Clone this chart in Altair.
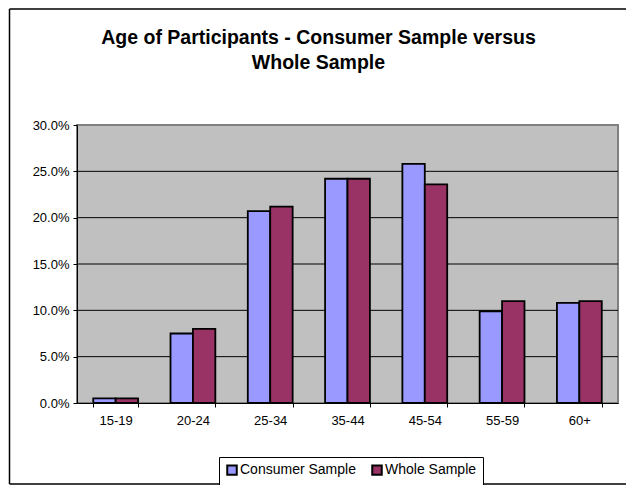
import altair as alt
import pandas as pd

ages = ["15-19", "20-24", "25-34", "35-44", "45-54", "55-59", "60+"]
consumer = [0.5, 7.5, 20.7, 24.2, 25.8, 9.9, 10.8]
whole = [0.5, 8.0, 21.2, 24.2, 23.6, 11.0, 11.0]
series = ["Consumer Sample", "Whole Sample"]
colors = ["#9999FF", "#993366"]
grid_vals = [0.05, 0.10, 0.15, 0.20, 0.25]
tick_vals = [0.0, 0.05, 0.10, 0.15, 0.20, 0.25, 0.30]

rows = []
for a, c, w in zip(ages, consumer, whole):
    rows.append({"Age": a, "Series": series[0], "Share": c / 100})
    rows.append({"Age": a, "Series": series[1], "Share": w / 100})
df = pd.DataFrame(rows)
grid_df = pd.DataFrame({"v": grid_vals})

FONT = "Arial, Liberation Sans, sans-serif"

yscale = alt.Scale(domain=[0, 0.3], nice=False)

grid = alt.Chart(grid_df).mark_rule(color="black", strokeWidth=1).encode(
    y=alt.Y("v:Q", scale=yscale, title=None,
            axis=alt.Axis(format=".1%", values=tick_vals, grid=False))
)

bars = alt.Chart(df).mark_bar(stroke="black", strokeWidth=1.8, opacity=1).encode(
    x=alt.X("Age:N", sort=ages, title=None,
            scale=alt.Scale(paddingInner=0.42, paddingOuter=0.21),
            axis=alt.Axis(labelAngle=0, tickBand="extent", labelPadding=7,
                          tickSize=4, domainColor="black", tickColor="black",
                          labelFontSize=13, labelColor="black", labelFont=FONT)),
    xOffset=alt.XOffset("Series:N", sort=series,
                        scale=alt.Scale(paddingInner=0, paddingOuter=0)),
    y=alt.Y("Share:Q", scale=yscale, title=None,
            axis=alt.Axis(format=".1%", values=tick_vals, grid=False,
                          tickSize=4, domainColor="black", tickColor="black",
                          labelFontSize=13, labelColor="black", labelFont=FONT,
                          labelPadding=4)),
    color=alt.Color("Series:N", sort=series,
                    scale=alt.Scale(domain=series, range=colors),
                    legend=alt.Legend(orient="none", legendX=142, legendY=332,
                                      direction="horizontal", title=None,
                                      strokeColor="black", fillColor="white",
                                      padding=6, symbolType="square",
                                      symbolSize=90, symbolStrokeColor="black",
                                      symbolStrokeWidth=2, symbolOpacity=1,
                                      labelFontSize=14, labelFont=FONT,
                                      labelColor="black", columnPadding=12,
                                      labelOffset=1, cornerRadius=0)),
)

frame_data = alt.Data(values=[{"k": 1}])
left_line = alt.Chart(frame_data).mark_rule(color="black", strokeWidth=1.5).encode(
    x=alt.value(-67.5), y=alt.value(-116), y2=alt.value(359))
top_line = alt.Chart(frame_data).mark_rule(color="black", strokeWidth=1.5).encode(
    x=alt.value(-67.5), x2=alt.value(549), y=alt.value(-116))
bottom_line = alt.Chart(frame_data).mark_rule(color="black", strokeWidth=1.5).encode(
    x=alt.value(-67.5), x2=alt.value(549), y=alt.value(359))

chart = alt.layer(grid, bars, left_line, top_line, bottom_line).properties(
    width=541,
    height=278,
    padding={"left": 69, "top": 117, "right": 8, "bottom": 82},
    autosize=alt.AutoSizeParams(type="none"),
    title=alt.TitleParams(
        ["Age of Participants - Consumer Sample versus", "Whole Sample"],
        fontSize=19.5, font=FONT, fontWeight="bold", anchor="middle",
        frame="group", dx=-29, offset=0, dy=65, lineHeight=25,
        color="black"),
).configure(
    background="white",
    view=alt.ViewConfig(fill="#C0C0C0", stroke="#808080", strokeWidth=2),
)

chart.save("out.html", embed_options={"renderer": "svg", "actions": False})
